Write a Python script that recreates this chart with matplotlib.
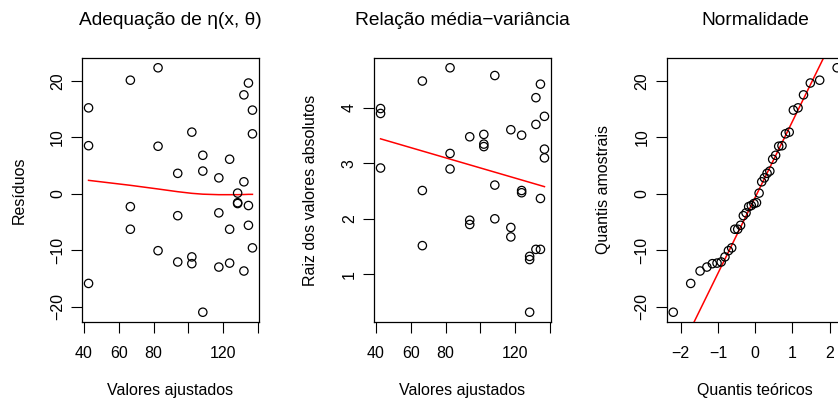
import numpy as np
import matplotlib
matplotlib.use("Agg")
import matplotlib.pyplot as plt
from statistics import NormalDist

plt.rcParams['font.family'] = ['Liberation Sans', 'DejaVu Sans']
plt.rcParams['axes.unicode_minus'] = True

# fitted values of the model (12 levels, 3 replicates each) and raw residuals
fitted_levels = [42.7, 66.7, 82.6, 93.9, 102.0, 108.3, 117.5, 123.7, 128.3, 131.9, 134.5, 136.8]
residuals_by_level = [
    [15.2, 8.5, -15.9],
    [20.1, -2.3, -6.3],
    [22.3, 8.4, -10.1],
    [3.6, -3.9, -12.1],
    [10.9, -11.2, -12.4],
    [6.8, 4.0, -21.0],
    [2.8, -3.4, -13.0],
    [6.1, -6.3, -12.3],
    [0.1, -1.6, -1.75],
    [17.5, 2.1, -13.7],
    [19.6, -2.1, -5.6],
    [14.8, 10.6, -9.6],
]
# smoothed trend of the residuals at each fitted level
smooth_resid = [2.36, 1.48, 0.83, 0.35, 0.06, -0.09, -0.18, -0.18, -0.18, -0.15, -0.12, -0.12]

fitted = np.repeat(fitted_levels, 3).astype(float)
resid = np.array(residuals_by_level, dtype=float).ravel()

FS = 11.5
TITLE_FS = 13.8


def r_lims(v):
    # axis range like R: data range plus 4% on each side
    lo, hi = np.min(v), np.max(v)
    pad = 0.04 * (hi - lo)
    return lo - pad, hi + pad


def style_axes(ax):
    for s in ax.spines.values():
        s.set_linewidth(0.9)
    ax.tick_params(direction='out', length=7.8, width=0.8, labelsize=FS)
    ax.tick_params(axis='x', pad=9.6)
    ax.tick_params(axis='y', pad=4.5)
    for lab in ax.get_yticklabels():
        lab.set_rotation(90)
        lab.set_va('center')
        lab.set_ha('right')


fig = plt.figure(figsize=(8.38, 4.0), dpi=100)
W, H = 838.0, 400.0
bottom, top = 322.0, 58.0
lefts = [82.0, 374.0, 666.7]
width = 177.0
axs = [fig.add_axes([l / W, (H - bottom) / H, width / W, (bottom - top) / H]) for l in lefts]

pt_kw = dict(s=36, facecolors='none', edgecolors='black', linewidths=0.9, zorder=3)
TITLE_PAD = 24
XLAB_PAD = 16
YLAB_PAD = 17

# 1) residuals vs fitted with smoothed trend
ax = axs[0]
ax.scatter(fitted, resid, **pt_kw)
ax.plot(fitted_levels, smooth_resid, color='red', lw=1.1, zorder=2)
ax.set_xlim(r_lims(fitted))
ax.set_ylim(r_lims(resid))
ax.set_xticks([40, 60, 80, 100, 120, 140])
ax.set_xticklabels(['40', '60', '80', '', '120', ''])
ax.set_yticks([-20, -10, 0, 10, 20])
ax.set_yticklabels(['\u221220', '\u221210', '0', '10', '20'])
ax.set_title('Adequação de η(x, θ)', fontsize=TITLE_FS, pad=TITLE_PAD)
ax.set_xlabel('Valores ajustados', fontsize=FS, labelpad=XLAB_PAD)
ax.set_ylabel('Resíduos', fontsize=FS, labelpad=YLAB_PAD)
style_axes(ax)

# 2) sqrt(|residual|) vs fitted with a straight line fit
ax = axs[1]
sq = np.sqrt(np.abs(resid))
ax.scatter(fitted, sq, **pt_kw)
b1, b0 = np.polyfit(fitted, sq, 1)
xs = np.array([fitted.min(), fitted.max()])
ax.plot(xs, b0 + b1 * xs, color='red', lw=1.1, zorder=2)
ax.set_xlim(r_lims(fitted))
ax.set_ylim(r_lims(sq))
ax.set_xticks([40, 60, 80, 100, 120, 140])
ax.set_xticklabels(['40', '60', '80', '', '120', ''])
ax.set_yticks([1, 2, 3, 4])
ax.set_title('Relação média\u2212variância', fontsize=TITLE_FS, pad=TITLE_PAD)
ax.set_xlabel('Valores ajustados', fontsize=FS, labelpad=XLAB_PAD)
ax.set_ylabel('Raiz dos valores absolutos', fontsize=FS, labelpad=YLAB_PAD)
style_axes(ax)

# 3) normal QQ plot with line through the quartiles
ax = axs[2]
n = len(resid)
nd = NormalDist()
theo = np.array([nd.inv_cdf((i - 0.5) / n) for i in range(1, n + 1)])
samp = np.sort(resid)
ax.scatter(theo, samp, **pt_kw)
q1, q3 = np.quantile(resid, [0.25, 0.75])
z1, z3 = nd.inv_cdf(0.25), nd.inv_cdf(0.75)
slope = (q3 - q1) / (z3 - z1)
ax.axline((z1, q1), slope=slope, color='red', lw=1.1, zorder=2)
ax.set_xlim(r_lims(theo))
ax.set_ylim(r_lims(samp))
ax.set_xticks([-2, -1, 0, 1, 2])
ax.set_xticklabels(['\u22122', '\u22121', '0', '1', '2'])
ax.set_yticks([-20, -10, 0, 10, 20])
ax.set_yticklabels(['\u221220', '\u221210', '0', '10', '20'])
ax.set_title('Normalidade', fontsize=TITLE_FS, pad=TITLE_PAD)
ax.set_xlabel('Quantis teóricos', fontsize=FS, labelpad=XLAB_PAD)
ax.set_ylabel('Quantis amostrais', fontsize=FS, labelpad=YLAB_PAD)
style_axes(ax)

fig.savefig('out.png', dpi=100)
